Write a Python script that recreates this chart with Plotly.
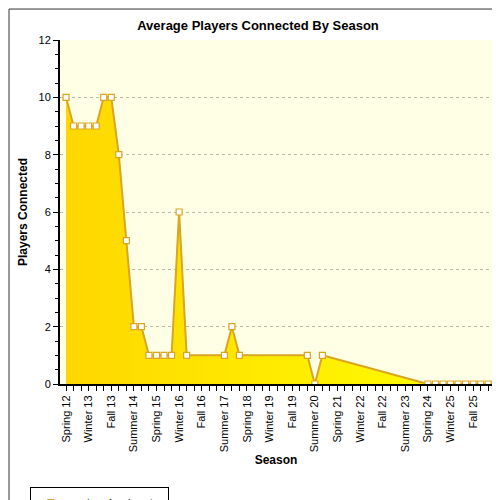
import plotly.graph_objects as go

seasons = ['Spring 12', 'Summer 12', 'Fall 12']
for yr in range(13, 26):
    seasons += ['Winter %d' % yr, 'Spring %d' % yr, 'Summer %d' % yr, 'Fall %d' % yr]
seasons += ['Winter 26', 'Spring 26']

players = [10, 9, 9, 9, 9, 10, 10, 8, 5, 2, 2, 1, 1, 1, 1, 6, 1,
           None, None, None, None, 1, 2, 1,
           None, None, None, None, None, None, None, None, 1, 0, 1,
           None, None, None, None, None, None, None, None, None, None, None, None, None,
           0, 0, 0, 0, 0, 0, 0, 0, 0]

xs = list(range(len(seasons)))
ticktext = [s if i % 3 == 0 else '' for i, s in enumerate(seasons)]

fig = go.Figure()
fig.add_trace(go.Scatter(
    x=xs, y=players, mode='lines+markers', connectgaps=True, name='Realms of Redemption',
    line=dict(color='#DAA520', width=2),
    marker=dict(symbol='square', size=6, color='white', line=dict(color='#DAA520', width=1.2)),
    fill='tozeroy',
    fillgradient=dict(type='horizontal', colorscale=[[0, '#FFD700'], [1, '#FFFF00']]),
))

fig.update_layout(
    width=500, height=500,
    paper_bgcolor='white', plot_bgcolor='#FFFFE6',
    title=dict(text='<b>Average Players Connected By Season</b>', x=0.5, xanchor='center',
               yref='container', y=0.965, yanchor='middle',
               font=dict(family='Arial', size=13, color='black')),
    margin=dict(l=52, r=16, t=32, b=124, autoexpand=False),
    font=dict(family='Arial', size=11, color='black'),
    showlegend=True,
    legend=dict(orientation='h', x=-0.07, y=-0.3, xanchor='left', yanchor='top',
                bordercolor='black', borderwidth=1, font=dict(size=9),
                itemwidth=30, tracegroupgap=0),
    shapes=[dict(type='rect', xref='paper', yref='paper', x0=-0.118, x1=1.035, y0=-0.355, y1=1.09,
                 line=dict(color='#333', width=1), layer='below')],
)
fig.update_xaxes(
    title=dict(text='<b>Season</b>', font=dict(size=12), standoff=4),
    tickvals=xs, ticktext=ticktext, tickangle=-90, range=[-0.8, 56.5], automargin=False,
    ticks='outside', ticklen=5, tickcolor='black', showline=True, linecolor='black', linewidth=2,
    showgrid=False, zeroline=False,
)
fig.update_yaxes(
    title=dict(text='<b>Players Connected</b>', font=dict(size=12), standoff=8),
    range=[0, 12], dtick=2, ticks='outside', ticklen=5, tickcolor='black', automargin=False,
    minor=dict(dtick=0.5, ticks='outside', ticklen=3, tickcolor='black', showgrid=False),
    showline=True, linecolor='black', linewidth=2,
    showgrid=True, gridcolor='#BBBBAA', griddash='dot', zeroline=False,
)

fig.write_html('out.html')
